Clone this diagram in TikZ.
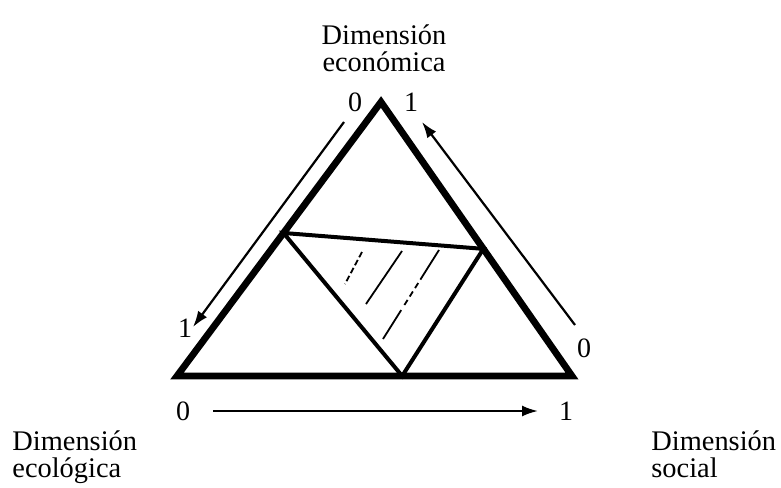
\documentclass[tikz,border=0pt]{standalone}
\usepackage{fontspec}
\setmainfont{Liberation Serif}
\usetikzlibrary{arrows.meta,calc}

\begin{document}
\begin{tikzpicture}[x=0.5pt,y=-0.5pt,font=\fontsize{14.2}{13.6}\selectfont,
 side/.style={line width=3.4pt},
 inner/.style={line width=2pt},
 arr/.style={-{Latex[length=8pt,width=5.5pt]},line width=1.1pt},
 hatch/.style={line width=0.9pt},
 dim/.style={inner sep=0pt},
 num/.style={inner sep=0pt,font=\fontsize{14}{14}\selectfont}]
\useasboundingbox (0,0) rectangle (781,487);
% outer triangle
\coordinate (A) at (381,102);
\coordinate (E) at (177,376);
\coordinate (S) at (572,376);
\draw[side] (A) -- (E) -- (S) -- cycle;
% inner triangle
\coordinate (p) at ($(A)!0.478!(E)$);
\coordinate (q) at ($(A)!0.536!(S)$);
\coordinate (r) at ($(E)!0.57!(S)$);
\draw[inner] (p) -- (q) -- (r) -- cycle;
% hatching
\draw[hatch,dash pattern=on 3pt off 1.5pt] (362,252) -- (345,284);
\draw[hatch] (402,251) -- (366,304);
\draw[hatch,dash pattern=on 17.5pt off 2pt on 3pt off 2pt on 3pt off 2pt on 3pt off 3pt on 20pt] (439,250) -- (383,339);
% scales
\node[num] (a0) at (355,102) {0};
\node[num] (a1) at (411,102) {1};
\node[num] (e1) at (185,328) {1};
\node[num] (s0) at (584,348) {0};
\node[num] (b0) at (183,411) {0};
\node[num] (b1) at (566,411) {1};
\coordinate (l1) at (344,122);
\coordinate (l2) at (193,327);
\coordinate (r1) at (575,325);
\coordinate (r2) at (422,122);
\coordinate (m1) at (213,411);
\coordinate (m2) at (538,411);
\draw[arr] (l1) -- (l2);
\draw[arr] (r1) -- (r2);
\draw[arr] (m1) -- (m2);
% labels
\node[dim,align=center] (eco) at (384,48) {Dimensión\\económica};
\node[dim,align=left,anchor=north west] (ecol) at (12,430) {Dimensión\\ecológica};
\node[dim,align=left,anchor=north west] (soc) at (651,430) {Dimensión\\social};
\end{tikzpicture}
\end{document}
